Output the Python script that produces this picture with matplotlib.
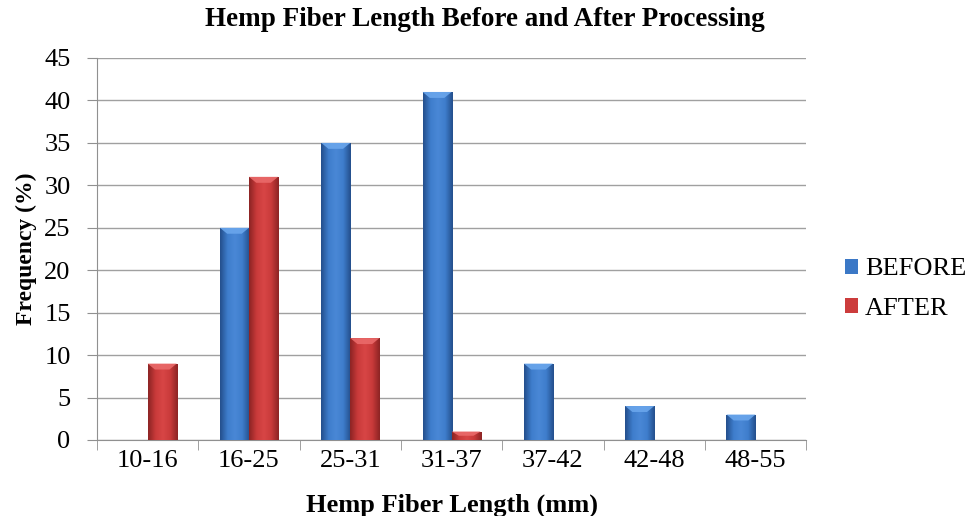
import matplotlib
matplotlib.use("Agg")
import matplotlib.pyplot as plt
import numpy as np
from matplotlib.colors import LinearSegmentedColormap
from matplotlib.patches import Polygon

categories = ["10-16", "16-25", "25-31", "31-37", "37-42", "42-48", "48-55"]
before = [0, 25, 35, 41, 9, 4, 3]
after = [9, 31, 12, 1, 0, 0, 0]
series_names = ["BEFORE", "AFTER"]

plt.rcParams['font.family'] = ['Liberation Serif', 'DejaVu Serif']

fig = plt.figure(figsize=(9.69, 5.16), dpi=100)
ax = fig.add_axes([0.1001, 0.1473, 0.7319, 0.7403])

x = np.arange(len(categories))
w = 0.287
b1 = ax.bar(x - w/2, before, width=w, color="#3b78c6", zorder=3, label=series_names[0])
b2 = ax.bar(x + w/2, after, width=w, color="#cc3c3c", zorder=3, label=series_names[1])

cmaps = {
    "b": LinearSegmentedColormap.from_list("b", ["#244f8c", "#3e7dcc", "#4a88d6", "#3e7dcc", "#244f8c"]),
    "r": LinearSegmentedColormap.from_list("r", ["#8c2424", "#c93a3a", "#d84646", "#c93a3a", "#8c2424"]),
}
tops = {"b": "#6aa6ec", "r": "#ea6a6a"}
grad = np.linspace(0, 1, 64).reshape(1, -1)

ax.set_xlim(-0.5, len(categories) - 0.5)
ax.set_ylim(0, 45)

for bars, key in ((b1, "b"), (b2, "r")):
    for p in bars:
        h = p.get_height()
        if h <= 0:
            continue
        x0, y0 = p.get_x(), p.get_y()
        bw = p.get_width()
        im = ax.imshow(grad, cmap=cmaps[key], extent=(x0, x0 + bw, y0, y0 + h),
                       aspect="auto", zorder=4, interpolation="bicubic")
        im.set_clip_path(p)
        bev = min(0.7, h * 0.5)
        poly = Polygon([(x0, y0 + h), (x0 + bw, y0 + h),
                        (x0 + bw * 0.75, y0 + h - bev), (x0 + bw * 0.25, y0 + h - bev)],
                       closed=True, facecolor=tops[key], edgecolor="none", zorder=5, alpha=0.9)
        ax.add_patch(poly)

ax.set_aspect("auto")
ax.set_xlim(-0.5, len(categories) - 0.5)
ax.set_ylim(0, 45)

ax.set_yticks(np.arange(0, 46, 5))
ax.yaxis.grid(True, color="#a0a0a0", linewidth=1.0, zorder=0)
ax.set_axisbelow(True)
ax.set_xticks(x)
ax.set_xticklabels(categories, fontsize=19)
ax.set_xticks(np.arange(-0.5, len(categories)), minor=True)
ax.tick_params(axis="x", which="major", length=0, pad=7)
ax.tick_params(axis="x", which="minor", length=7, color="#909090", direction="out")
ax.tick_params(axis="y", length=7, color="#909090", labelsize=19, pad=12)

for s in ("top", "right"):
    ax.spines[s].set_visible(False)
ax.spines["left"].set_color("#909090")
ax.spines["bottom"].set_color("#909090")

fig.text(0.5, 1 - 19 / 516, "Hemp Fiber Length Before and After Processing",
         fontsize=19.5, fontweight="bold", ha="center", va="center")
ax.set_xlabel("Hemp Fiber Length (mm)", fontsize=19, fontweight="bold")
ax.xaxis.set_label_coords(0.5, -0.14)
ax.set_ylabel("Frequency (%)", fontsize=17, fontweight="bold")
ax.yaxis.set_label_coords(-0.085, 0.5)

leg = ax.legend(loc="center left", bbox_to_anchor=(845 / 969, 1 - 289 / 516),
                bbox_transform=fig.transFigure, frameon=False, fontsize=19,
                borderpad=0, borderaxespad=0,
                handlelength=0.5, handleheight=0.5, handletextpad=0.25, labelspacing=0.65)

fig.savefig("out.png", dpi=100)
